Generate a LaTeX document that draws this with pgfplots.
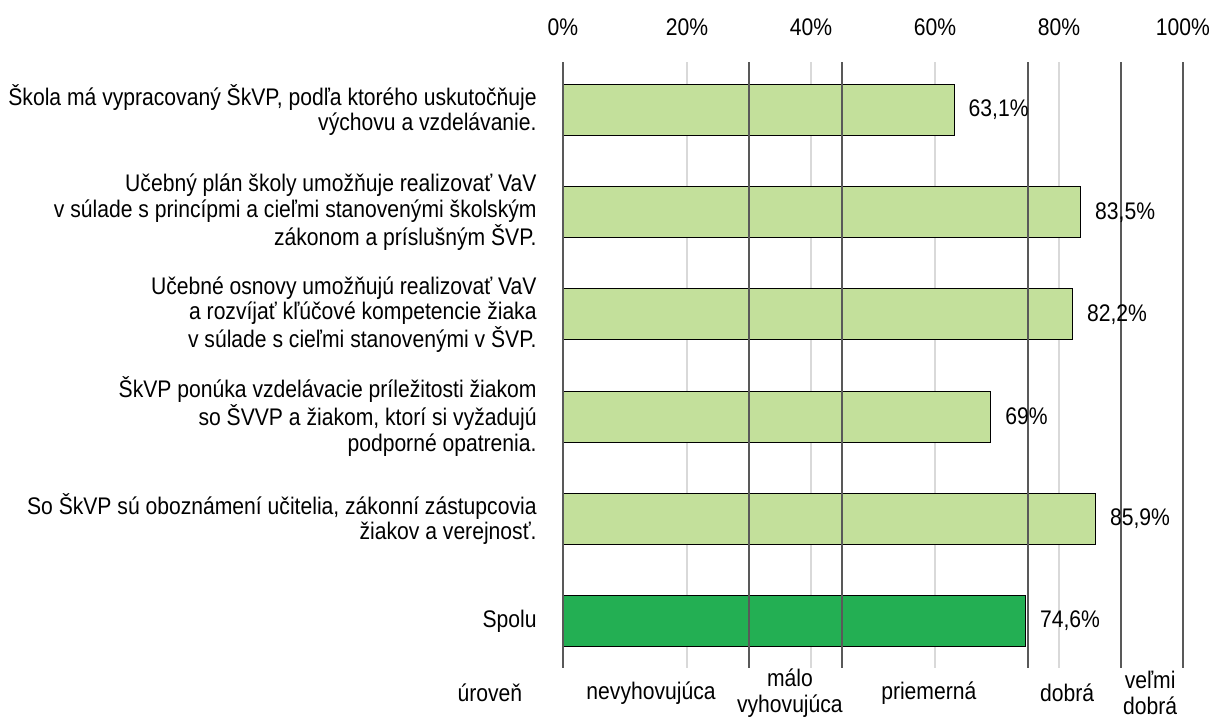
\documentclass[border=0pt]{standalone}
\usepackage{fontspec}
\setmainfont{Liberation Sans}[FakeStretch=0.88]
\usepackage{pgfplots}
\pgfplotsset{compat=1.18}
\definecolor{barlight}{RGB}{195,224,155}
\definecolor{bardark}{RGB}{35,175,83}
\definecolor{levelline}{RGB}{89,89,89}
\definecolor{gridl}{RGB}{217,217,217}
\begin{document}
\fontsize{12}{12.75}\selectfont
\begin{tikzpicture}
\useasboundingbox (0,0) rectangle (605.5pt,361pt);
\begin{axis}[
  at={(281.5pt,27pt)}, anchor=south west,
  width=310pt, height=303pt, scale only axis,
  xmin=0, xmax=100, ymin=-0.46, ymax=5.47,
  axis line style={draw=none},
  major tick length=0pt,
  xtick={0,20,...,100},
  xticklabel pos=right,
  xticklabel={\pgfmathprintnumber{\tick}\%},
  xticklabel style={yshift=9pt},
  xmajorgrids, grid style={gridl, line width=0.75pt},
  ytick={0,...,5},
  yticklabels={
    Spolu,
    {So ŠkVP sú oboznámení učitelia, zákonní zástupcovia\\žiakov a verejnosť.},
    {ŠkVP ponúka vzdelávacie príležitosti žiakom\\so ŠVVP a žiakom, ktorí si vyžadujú\\podporné opatrenia.},
    {Učebné osnovy umožňujú realizovať VaV\\a rozvíjať kľúčové kompetencie žiaka\\v súlade s cieľmi stanovenými v ŠVP.},
    {Učebný plán školy umožňuje realizovať VaV\\v súlade s princípmi a cieľmi stanovenými školským\\zákonom a príslušným ŠVP.},
    {Škola má vypracovaný ŠkVP, podľa ktorého uskutočňuje\\výchovu a vzdelávanie.}
  },
  yticklabel style={align=right, xshift=-9pt},
  /pgf/number format/assume math mode=true,
  bar width=25.5pt,
  clip=false,
]
% values per statement (bottom to top)
\addplot[xbar, bar shift=0pt, fill=barlight, draw=black, line width=0.5pt,
  point meta=x,
  nodes near coords={\pgfmathprintnumber[fixed,precision=1,use comma]{\pgfplotspointmeta}\%},
  nodes near coords style={anchor=west, xshift=3pt, black}]
  coordinates {(85.9,1) (69,2) (82.2,3) (83.5,4) (63.1,5)};
\addplot[xbar, bar shift=0pt, fill=bardark, draw=black, line width=0.5pt,
  point meta=x,
  nodes near coords={\pgfmathprintnumber[fixed,precision=1,use comma]{\pgfplotspointmeta}\%},
  nodes near coords style={anchor=west, xshift=3pt, black}]
  coordinates {(74.6,0)};
% level boundaries
\addplot[levelline, line width=0.9pt] coordinates {(0,-0.46) (0,5.47)};
\addplot[levelline, line width=0.9pt] coordinates {(30,-0.46) (30,5.47)};
\addplot[levelline, line width=0.9pt] coordinates {(45,-0.46) (45,5.47)};
\addplot[levelline, line width=0.9pt] coordinates {(75,-0.46) (75,5.47)};
\addplot[levelline, line width=0.9pt] coordinates {(90,-0.46) (90,5.47)};
\addplot[levelline, line width=0.9pt] coordinates {(100,-0.46) (100,5.47)};
% level names
\node[yshift=-12.5pt] at (axis cs:-11.8,-0.46) {úroveň};
\node[yshift=-12.5pt] at (axis cs:14.2,-0.46) {nevyhovujúca};
\node[yshift=-12.5pt, align=center] at (axis cs:36.6,-0.46) {málo\\vyhovujúca};
\node[yshift=-12.5pt] at (axis cs:59,-0.46) {priemerná};
\node[yshift=-12.5pt] at (axis cs:81.3,-0.46) {dobrá};
\node[yshift=-12.5pt, align=center] at (axis cs:94.7,-0.46) {veľmi\\dobrá};
\end{axis}
\end{tikzpicture}
\end{document}
